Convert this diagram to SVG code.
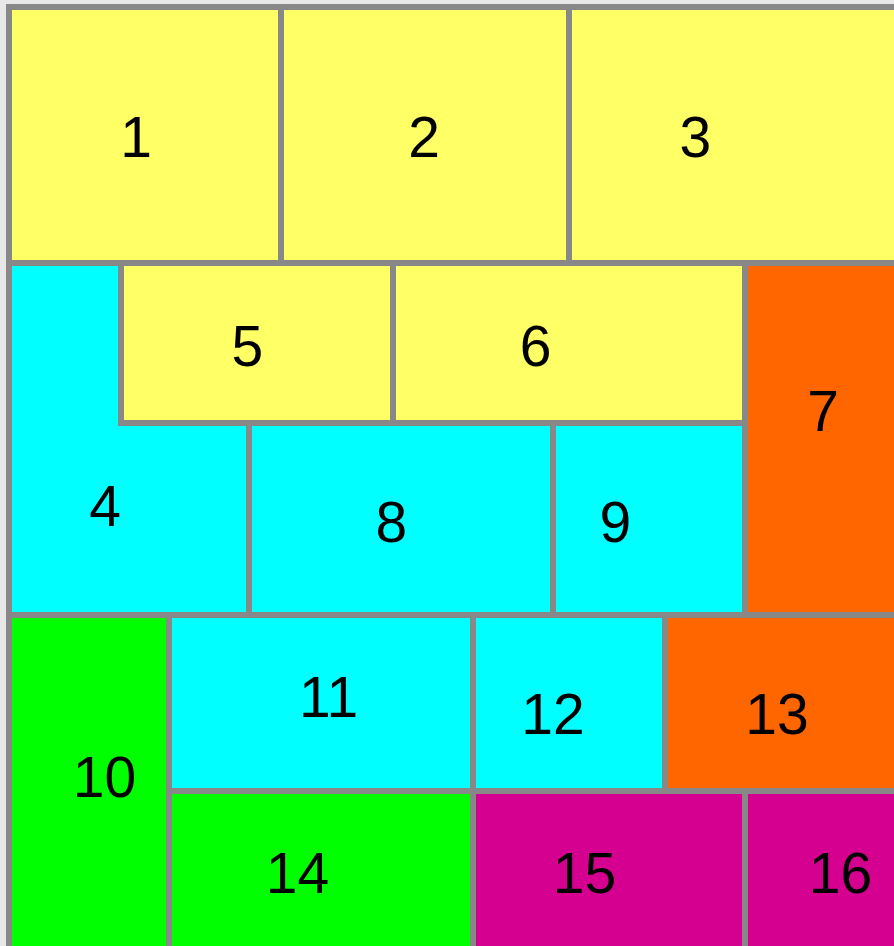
<svg xmlns="http://www.w3.org/2000/svg" width="894" height="946" viewBox="0 0 894 946">
<style>
.c{stroke:#888888;stroke-width:6}
.y{fill:#ffff66}.b{fill:#00ffff}.o{fill:#ff6600}.g{fill:#00ff00}.m{fill:#d5008f}
text{font-family:"Liberation Sans",Arial,Helvetica,sans-serif;font-size:57px;fill:#000;text-anchor:middle}
</style>
<rect x="0" y="0" width="894" height="946" fill="#e8e8e8"/>
<g id="n1"><rect class="c y" x="9" y="7" width="272" height="256"/><text x="136" y="157">1</text></g>
<g id="n2"><rect class="c y" x="281" y="7" width="288" height="256"/><text x="424.2" y="157">2</text></g>
<g id="n3"><rect class="c y" x="569" y="7" width="350" height="256"/><text x="695.4" y="157">3</text></g>
<g id="n4"><path class="c b" d="M9 263H121V423H249V615H9Z"/><text x="105.1" y="526">4</text></g>
<g id="n5"><rect class="c y" x="121" y="263" width="272" height="160"/><text x="247.3" y="366">5</text></g>
<g id="n6"><rect class="c y" x="393" y="263" width="352" height="160"/><text x="535.6" y="366">6</text></g>
<g id="n7"><rect class="c o" x="745" y="263" width="174" height="352"/><text x="823.1" y="431">7</text></g>
<g id="n8"><rect class="c b" x="249" y="423" width="304" height="192"/><text x="391.3" y="542">8</text></g>
<g id="n9"><rect class="c b" x="553" y="423" width="192" height="192"/><text x="615.4" y="542">9</text></g>
<g id="n10"><rect class="c g" x="9" y="615" width="160" height="360"/><text x="104.5" y="797">10</text></g>
<g id="n11"><rect class="c b" x="169" y="615" width="304" height="176"/><text x="328.5" y="717">11</text></g>
<g id="n12"><rect class="c b" x="473" y="615" width="192" height="176"/><text x="553" y="734">12</text></g>
<g id="n13"><rect class="c o" x="665" y="615" width="254" height="176"/><text x="777" y="734">13</text></g>
<g id="n14"><rect class="c g" x="169" y="791" width="304" height="184"/><text x="297.5" y="893">14</text></g>
<g id="n15"><rect class="c m" x="473" y="791" width="272" height="184"/><text x="584.5" y="893">15</text></g>
<g id="n16"><rect class="c m" x="745" y="791" width="174" height="184"/><text x="840.5" y="893">16</text></g>
<g id="connectors"></g>
</svg>
